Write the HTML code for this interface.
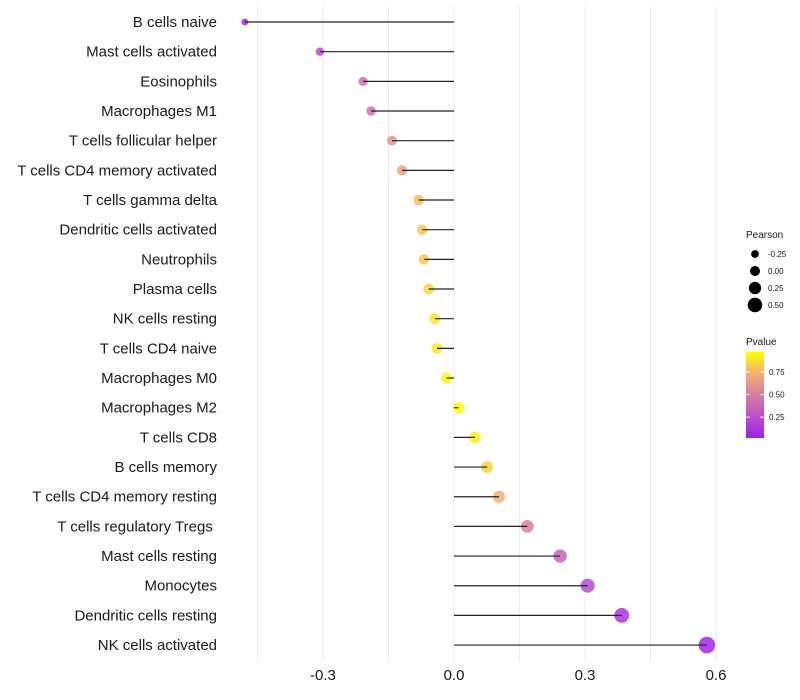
<!DOCTYPE html>
<html><head><meta charset="utf-8"><style>
body{margin:0;background:#fff;}
svg{display:block;font-family:"Liberation Sans",sans-serif;}
</style></head><body>
<svg id="chart" width="800" height="700"></svg>
<script>
const categories=["B cells naive","Mast cells activated","Eosinophils","Macrophages M1","T cells follicular helper","T cells CD4 memory activated","T cells gamma delta","Dendritic cells activated","Neutrophils","Plasma cells","NK cells resting","T cells CD4 naive","Macrophages M0","Macrophages M2","T cells CD8","B cells memory","T cells CD4 memory resting","T cells regulatory  Tregs\u00a0","Mast cells resting","Monocytes","Dendritic cells resting","NK cells activated"];
const pearson=[-0.479,-0.307,-0.208,-0.19,-0.142,-0.119,-0.081,-0.073,-0.069,-0.058,-0.044,-0.039,-0.017,0.01,0.048,0.076,0.103,0.168,0.243,0.306,0.384,0.579];
const pvalue=[0.02,0.22,0.42,0.45,0.62,0.68,0.8,0.82,0.83,0.87,0.92,0.93,0.98,0.99,0.94,0.86,0.76,0.5,0.36,0.22,0.1,0.02];
const xTicks=[-0.3,0,0.3,0.6];
const xTickLabels=["-0.3","0.0","0.3","0.6"];
const xMinor=[-0.45,-0.15,0.15,0.45];
const sizeLegend=[-0.25,0,0.25,0.5];
const sizeLegendLabels=["-0.25","0.00","0.25","0.50"];
const colorLegend=[0.25,0.5,0.75];
const colorLegendLabels=["0.25","0.50","0.75"];

const NS="http://www.w3.org/2000/svg";
const svg=document.getElementById('chart');
function mk(tag,attrs,parent){const e=document.createElementNS(NS,tag);for(const k in attrs)e.setAttribute(k,attrs[k]);(parent||svg).appendChild(e);return e;}
const x=v=>454+v*436.7;
const y=i=>22+i*29.67;
const r=p=>Math.max(2,5.6+4.6*p);
function lerp(a,b,t){return a+(b-a)*t;}
const stops=[[0,[160,32,240]],[0.5,[216,125,160]],[0.75,[242,175,115]],[1,[255,255,0]]];
function col(p){p=Math.max(0,Math.min(1,p));for(let i=1;i<stops.length;i++){if(p<=stops[i][0]){const a=stops[i-1],b=stops[i];const t=(p-a[0])/(b[0]-a[0]);return `rgb(${Math.round(lerp(a[1][0],b[1][0],t))},${Math.round(lerp(a[1][1],b[1][1],t))},${Math.round(lerp(a[1][2],b[1][2],t))})`;}}}

xMinor.concat(xTicks).forEach(v=>{
  const g=mk('line',{x1:x(v),x2:x(v),y1:5,y2:662,stroke:'#ebebeb','stroke-width':1});
  
  
});
xTicks.forEach((v,i)=>{
  const t=mk('text',{x:x(v),y:680,'text-anchor':'middle','font-size':15,fill:'#1a1a1a'});
  t.textContent=xTickLabels[i];
  
  
});
categories.forEach((c,i)=>{
  const t=mk('text',{x:217,y:y(i)+5,'text-anchor':'end','font-size':15,fill:'#1a1a1a'});
  t.setAttribute('xml:space','preserve');
  t.textContent=c;
  
  
  const pt=mk('circle',{cx:x(pearson[i]),cy:y(i),r:r(pearson[i]),fill:col(pvalue[i]),'fill-opacity':0.85});
  
  
  const ln=mk('line',{x1:x(0),x2:x(pearson[i]),y1:y(i),y2:y(i),stroke:'#222','stroke-width':1.2});
  
  
});
const st=mk('text',{x:746,y:238,'font-size':10,fill:'#1a1a1a'});st.textContent='Pearson';


sizeLegend.forEach((v,i)=>{
  const cy=254+i*17;
  const c=mk('circle',{cx:755,cy:cy,r:r(v)-0.6,fill:'#000'});
  
  
  const t=mk('text',{x:768,y:cy+3,'font-size':8,fill:'#1a1a1a'});t.textContent=sizeLegendLabels[i];
  
  
});
const ct=mk('text',{x:746,y:345,'font-size':10,fill:'#1a1a1a'});ct.textContent='Pvalue';


const defs=mk('defs',{});
const lg=mk('linearGradient',{id:'pg',x1:0,y1:1,x2:0,y2:0},defs);
stops.forEach(s=>mk('stop',{offset:s[0],'stop-color':`rgb(${s[1].join(',')})`},lg));
const cb=mk('rect',{x:746,y:352,width:18,height:86,fill:'url(#pg)'});


const cy=v=>438-(v-0.02)/(0.97-0.02)*86;
colorLegend.forEach((v,i)=>{
  mk('line',{x1:746,x2:750,y1:cy(v),y2:cy(v),stroke:'#fff'});
  mk('line',{x1:760,x2:764,y1:cy(v),y2:cy(v),stroke:'#fff'});
  const t=mk('text',{x:769,y:cy(v)+3,'font-size':8,fill:'#1a1a1a'});t.textContent=colorLegendLabels[i];
  
  
});
</script>
</body></html>
